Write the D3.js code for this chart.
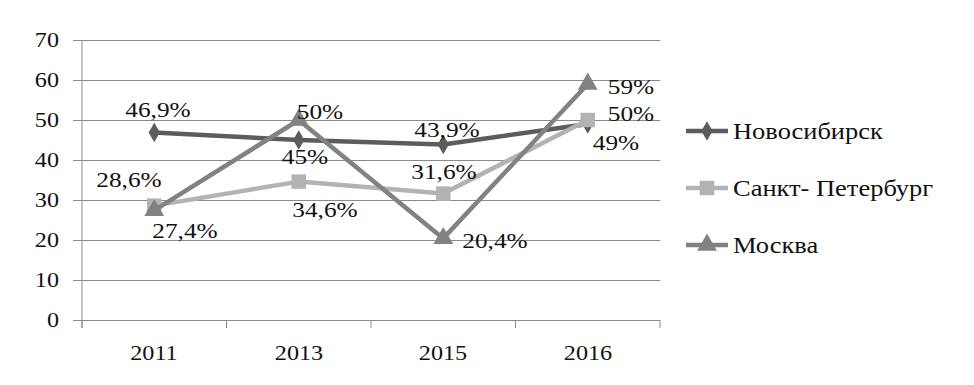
<!DOCTYPE html>
<html>
<head>
<meta charset="utf-8">
<script src="https://cdn.jsdelivr.net/npm/d3@7"></script>
<style>
  html, body { margin: 0; padding: 0; background: #fff; }
  #chart { position: relative; width: 974px; height: 385px; }
  #chart svg { position: absolute; left: 0; top: 0; }
  .lbl {
    position: absolute;
    white-space: nowrap;
    line-height: 1;
    color: #111;
    font-family: "Liberation Serif", "Times New Roman", Tinos, serif;
  }
  .mid   { transform: translate(-50%, -50%) scaleX(1.15); transform-origin: 50% 50%; }
  .right { transform: translate(-100%, -50%) scaleX(1.15); transform-origin: 100% 50%; }
  .left  { transform: translate(0, -50%) scaleX(1.15); transform-origin: 0 50%; }
</style>
</head>
<body>
<div id="chart"></div>
<script>
// data
const years = ["2011", "2013", "2015", "2016"];
const seriesNames = ["Новосибирск", "Санкт- Петербург", "Москва"];
const novosibirsk = [46.9, 45, 43.9, 49];
const spb = [28.6, 34.6, 31.6, 50];
const moskva = [27.4, 50, 20.4, 59];
const yTicks = [0, 10, 20, 30, 40, 50, 60, 70];

const W = 974, H = 385;

const colors = ["#5c5c5c", "#b3b3b3", "#828282"];
const symbols = [d3.symbolDiamond, d3.symbolSquare, d3.symbolTriangle];
const symSize = [110, 210, 170];

// label placement (dx, dy in px) per series per point
const labelPos = [
  [[4, -22], [6, 17], [4, -14], [28, 19]],
  [[-25, -26], [26, 28], [1, -22], [43, -6]],
  [[31, 21], [21, -8], [52, 3], [43, 3]]
];

const fmt = v => String(v).replace(".", ",") + "%";

const chart = d3.select("#chart");

const svg = chart.append("svg")
                 .attr("width", W)
                 .attr("height", H);

// text goes in a html layer on top of the svg
const textLayer = chart.append("div")
                       .style("position", "absolute")
                       .style("left", "0px")
                       .style("top", "0px")
                       .style("width", W + "px")
                       .style("height", H + "px");

const plotLeft = 82, plotRight = 660;
const plotTop = 40, plotBottom = 320;

const x = d3.scaleBand()
            .domain(years)
            .range([plotLeft, plotRight]);

const y = d3.scaleLinear()
            .domain([0, 70])
            .range([plotBottom, plotTop]);

const cx = d => x(d) + x.bandwidth() / 2;

// gridlines
svg.append("g")
   .attr("transform", `translate(${plotLeft}, 0)`)
   .call(d3.axisLeft(y).tickValues(yTicks).tickSize(-(plotRight - plotLeft)).tickFormat(""))
   .call(g => g.select(".domain").remove())
   .call(g => g.selectAll("line").attr("stroke", "#8a8a8a").attr("stroke-width", 1.2));

// y axis tick marks
svg.append("g")
   .attr("transform", `translate(${plotLeft}, 0)`)
   .call(d3.axisLeft(y).tickValues(yTicks).tickSize(9).tickSizeOuter(0).tickFormat(""))
   .call(g => g.select(".domain").remove())
   .call(g => g.selectAll("line").attr("stroke", "#8a8a8a"));

svg.append("line")
   .attr("x1", plotLeft).attr("x2", plotLeft)
   .attr("y1", plotTop).attr("y2", plotBottom + 8)
   .attr("stroke", "#8a8a8a");

// x axis tick marks between categories
svg.append("g")
   .selectAll("line")
   .data(years.map(d => x(d)).concat([plotRight]))
   .join("line")
   .attr("x1", d => d).attr("x2", d => d)
   .attr("y1", plotBottom).attr("y2", plotBottom + 8)
   .attr("stroke", "#8a8a8a");

// y tick labels
textLayer.selectAll("div.ytick")
         .data(yTicks)
         .join("div")
         .attr("class", "lbl right ytick")
         .style("left", (plotLeft - 23) + "px")
         .style("top", d => y(d) + "px")
         .style("font-size", "21px")
         .text(d => d);

// x tick labels
textLayer.selectAll("div.xtick")
         .data(years)
         .join("div")
         .attr("class", "lbl mid xtick")
         .style("left", d => cx(d) + "px")
         .style("top", (plotBottom + 33) + "px")
         .style("font-size", "21px")
         .text(d => d);

// series
const allSeries = [novosibirsk, spb, moskva];
const line = d3.line()
               .x((d, i) => cx(years[i]))
               .y(d => y(d));

allSeries.forEach((vals, s) => {
  svg.append("path")
     .datum(vals)
     .attr("d", line)
     .attr("fill", "none")
     .attr("stroke", colors[s])
     .attr("stroke-width", 4.5)
     .attr("stroke-linejoin", "round");

  svg.append("g")
     .selectAll("path")
     .data(vals)
     .join("path")
     .attr("d", d3.symbol().type(symbols[s]).size(symSize[s]))
     .attr("transform", (d, i) => `translate(${cx(years[i])}, ${y(d)})`)
     .attr("fill", colors[s]);
});

// data labels
allSeries.forEach((vals, s) => {
  textLayer.selectAll(`div.val${s}`)
           .data(vals)
           .join("div")
           .attr("class", `lbl mid val${s}`)
           .style("left", (d, i) => (cx(years[i]) + labelPos[s][i][0]) + "px")
           .style("top", (d, i) => (y(d) + labelPos[s][i][1]) + "px")
           .style("font-size", "22px")
           .text(d => fmt(d));
});

// legend
const legendY = (d, i) => 131 + i * 57;

const legend = svg.append("g")
                  .selectAll("g")
                  .data(seriesNames)
                  .join("g")
                  .attr("transform", (d, i) => `translate(686, ${legendY(d, i)})`);

legend.append("line")
      .attr("x1", 0).attr("x2", 42)
      .attr("stroke", (d, i) => colors[i])
      .attr("stroke-width", 4.5);

legend.append("path")
      .attr("d", (d, i) => d3.symbol().type(symbols[i]).size(symSize[i])())
      .attr("transform", "translate(21, 0)")
      .attr("fill", (d, i) => colors[i]);

textLayer.selectAll("div.leg")
         .data(seriesNames)
         .join("div")
         .attr("class", "lbl left leg")
         .style("left", "733px")
         .style("top", (d, i) => legendY(d, i) + "px")
         .style("font-size", "23px")
         .text(d => d);
</script>
</body>
</html>
